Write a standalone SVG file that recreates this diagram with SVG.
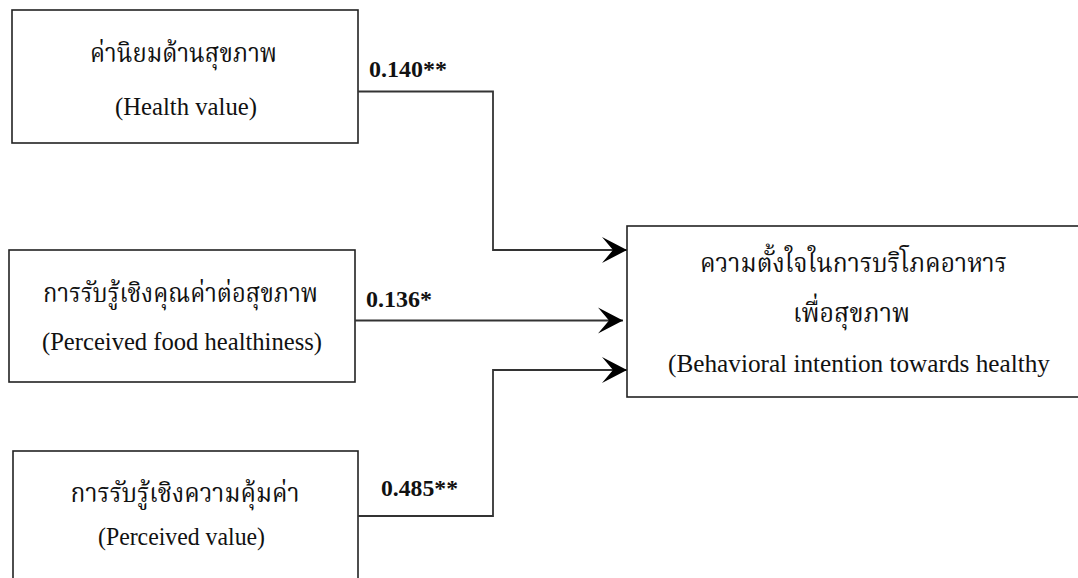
<svg xmlns="http://www.w3.org/2000/svg" width="1078" height="578" viewBox="0 0 1078 578">
<defs>
<style>
.box{fill:#ffffff;stroke:#222222;stroke-width:1.6}
.th{font-family:"Liberation Serif","Noto Serif Thai","Noto Sans Thai",serif;font-size:27px;fill:#111111;text-anchor:middle}
.en{font-family:"Liberation Serif","Times New Roman",serif;font-size:25px;fill:#111111;text-anchor:middle}
.lbl{font-family:"Liberation Serif","Times New Roman",serif;font-size:24px;font-weight:bold;fill:#111111}
.conn{fill:none;stroke:#333333;stroke-width:1.8}
</style>
<marker id="arr" viewBox="-26 -14 27 28" refX="0" refY="0" markerWidth="27" markerHeight="28" markerUnits="userSpaceOnUse" orient="auto">
<path d="M0,0 L-25,-13 L-14,0 L-25,13 Z" fill="#000000"/>
</marker>
</defs>
<rect width="1078" height="578" fill="#ffffff"/>
<g id="node-health-value">
<rect class="box" x="12" y="10" width="346" height="133"/>
<text class="th" x="183.5" y="62" textLength="187" lengthAdjust="spacingAndGlyphs">ค่านิยมด้านสุขภาพ</text>
<text class="en" x="186" y="115" textLength="142" lengthAdjust="spacingAndGlyphs">(Health value)</text>
</g>
<g id="node-perceived-food-healthiness">
<rect class="box" x="9" y="250" width="346" height="132"/>
<text class="th" x="180.5" y="302" textLength="275" lengthAdjust="spacingAndGlyphs">การรับรู้เชิงคุณค่าต่อสุขภาพ</text>
<text class="en" x="182" y="350" textLength="280" lengthAdjust="spacingAndGlyphs">(Perceived food healthiness)</text>
</g>
<g id="node-perceived-value">
<rect class="box" x="13" y="451" width="345" height="140"/>
<text class="th" x="185" y="502" textLength="229" lengthAdjust="spacingAndGlyphs">การรับรู้เชิงความคุ้มค่า</text>
<text class="en" x="181.5" y="545" textLength="167" lengthAdjust="spacingAndGlyphs">(Perceived value)</text>
</g>
<g id="node-behavioral-intention">
<rect class="box" x="627" y="226" width="470" height="171"/>
<text class="th" x="853.5" y="272" textLength="307" lengthAdjust="spacingAndGlyphs">ความตั้งใจในการบริโภคอาหาร</text>
<text class="th" x="851.5" y="322" textLength="117" lengthAdjust="spacingAndGlyphs">เพื่อสุขภาพ</text>
<text class="en" x="859" y="372" textLength="382" lengthAdjust="spacingAndGlyphs">(Behavioral intention towards healthy</text>
</g>
<g id="connectors">
<path class="conn" d="M358,91.5 H493 V250 H627" marker-end="url(#arr)"/>
<path class="conn" d="M355,320.5 H623" marker-end="url(#arr)"/>
<path class="conn" d="M358,516 H493 V370 H627" marker-end="url(#arr)"/>
<text class="lbl" x="369" y="77" textLength="78" lengthAdjust="spacingAndGlyphs">0.140**</text>
<text class="lbl" x="366" y="307" textLength="66" lengthAdjust="spacingAndGlyphs">0.136*</text>
<text class="lbl" x="381" y="496" textLength="77" lengthAdjust="spacingAndGlyphs">0.485**</text>
</g>
</svg>
